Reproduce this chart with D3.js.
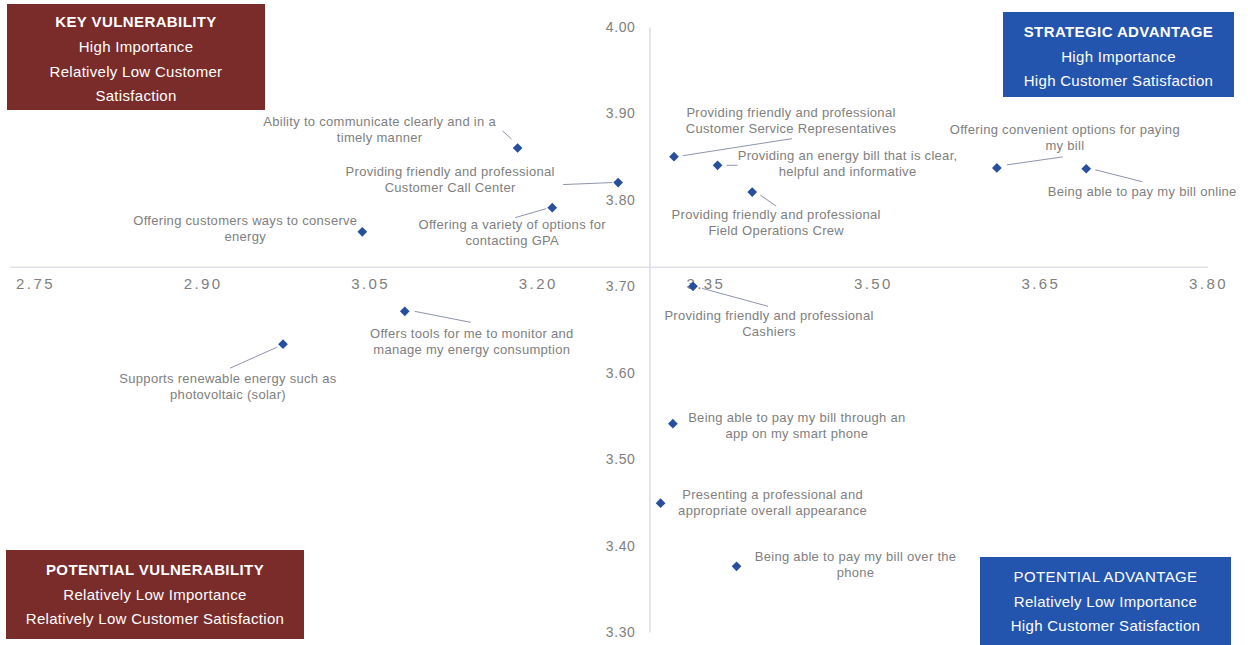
<!DOCTYPE html>
<html>
<head>
<meta charset="utf-8">
<script src="https://cdn.jsdelivr.net/npm/d3@7"></script>
<style>
  html, body { margin: 0; padding: 0; background: #ffffff; }
  svg { display: block; font-family: "Liberation Sans", Arial, sans-serif; }
</style>
</head>
<body>
<svg id="chart" width="1248" height="645"></svg>
<script>
// Attributes rated by customers: satisfaction (x) vs. importance (y)
const attributes = [
  ["Ability to communicate clearly and in a", "timely manner"],
  ["Providing friendly and professional", "Customer Call Center"],
  ["Offering a variety of options for", "contacting GPA"],
  ["Offering customers ways to conserve", "energy"],
  ["Providing friendly and professional", "Customer Service Representatives"],
  ["Providing an energy bill that is clear,", "helpful and informative"],
  ["Providing friendly and professional", "Field Operations Crew"],
  ["Offering convenient options for paying", "my bill"],
  ["Being able to pay my bill online"],
  ["Supports renewable energy such as", "photovoltaic (solar)"],
  ["Offers tools for me to monitor and", "manage my energy consumption"],
  ["Providing friendly and professional", "Cashiers"],
  ["Being able to pay my bill through an", "app on my smart phone"],
  ["Presenting a professional and", "appropriate overall appearance"],
  ["Being able to pay my bill over the", "phone"]
];
const satisfaction = [3.182, 3.272, 3.213, 3.043, 3.322, 3.361, 3.392, 3.611, 3.691, 2.972, 3.081, 3.339, 3.321, 3.310, 3.378];
const importance   = [3.860, 3.820, 3.791, 3.763, 3.850, 3.840, 3.809, 3.837, 3.836, 3.633, 3.671, 3.700, 3.541, 3.449, 3.376];

// Quadrant dividers (average satisfaction / average importance)
const satisfactionMid = 3.30;
const importanceMid = 3.722;

const xTicks = [2.75, 2.90, 3.05, 3.20, 3.35, 3.50, 3.65, 3.80];
const xTickLabels = ["2.75", "2.90", "3.05", "3.20", "3.35", "3.50", "3.65", "3.80"];
const yTicks = [3.30, 3.40, 3.50, 3.60, 3.70, 3.80, 3.90, 4.00];
const yTickLabels = ["3.30", "3.40", "3.50", "3.60", "3.70", "3.80", "3.90", "4.00"];

// Label placement relative to each point: [dx, dy] of the first text line,
// and the leader line [x1, y1, x2, y2] (null = no leader)
const labelOffsets = [
  [-138, -25], [-168, -10], [-40, 18], [-117, -10], [117, -43],
  [130, -8], [24, 24], [68, -37], [56, 24], [-55, 36],
  [67, 24], [76, 31], [124, -5], [112, -7], [119, -8]
];
const leaders = [
  [-6, -9, -15, -17], [-6, 0, -55, 2], [-6, 1, -37, 10], null, [9, -1, 118, -18],
  [9, 0, 20, 0], [8, 3, 24, 14], [10, -3, 66, -11], [9, 1, 56, 13], [-6, 3, -53, 24],
  [10, 0, 66, 11], [9, 2, 75, 20], null, null, null
];

// Quadrant callouts: box [x, y, w, h] and first text line position
const quadrants = [
  { box: [7, 4, 258, 106], firstLine: 23.5, fill: "#7a2c2a", bold: true,
    lines: ["KEY VULNERABILITY", "High Importance", "Relatively Low Customer", "Satisfaction"] },
  { box: [1003, 12, 231, 85], firstLine: 33, fill: "#2455ae", bold: true,
    lines: ["STRATEGIC ADVANTAGE", "High Importance", "High Customer Satisfaction"] },
  { box: [6, 550, 298, 89], firstLine: 571, fill: "#7a2c2a", bold: true,
    lines: ["POTENTIAL VULNERABILITY", "Relatively Low Importance", "Relatively Low Customer Satisfaction"] },
  { box: [980, 557, 251, 95], firstLine: 578, fill: "#2455ae", bold: false,
    lines: ["POTENTIAL ADVANTAGE", "Relatively Low Importance", "High Customer Satisfaction"] }
];

const svg = d3.select("#chart");

const x = d3.scaleLinear().domain([2.75, 3.80]).range([35, 1208]);
const y = d3.scaleLinear().domain([3.30, 4.00]).range([632, 27]);

// Horizontal divider with satisfaction tick labels below it
svg.append("line")
  .attr("x1", x(2.728)).attr("x2", x(3.80))
  .attr("y1", y(importanceMid)).attr("y2", y(importanceMid))
  .attr("stroke", "#dfe0ea").attr("stroke-width", 1.5);

const xAxis = svg.append("g")
  .attr("transform", `translate(0,${y(importanceMid)})`)
  .call(d3.axisBottom(x).tickValues(xTicks).tickSize(0).tickPadding(11)
    .tickFormat((d, i) => xTickLabels[i]));
xAxis.select(".domain").remove();
xAxis.selectAll("text")
  .attr("fill", "#808080").attr("font-size", 15).attr("letter-spacing", "2.4px")
  .attr("font-family", "Liberation Sans, Arial, sans-serif");

// Vertical divider with importance tick labels
const yAxis = svg.append("g")
  .attr("transform", `translate(${x(satisfactionMid)},0)`)
  .call(d3.axisLeft(y).tickValues(yTicks).tickSize(0).tickPadding(14)
    .tickFormat((d, i) => yTickLabels[i]));
yAxis.select(".domain")
  .attr("stroke", "#d9dbea").attr("stroke-width", 1.5);
yAxis.selectAll("text")
  .attr("fill", "#808080").attr("font-size", 14).attr("letter-spacing", "0.6px")
  .attr("font-family", "Liberation Sans, Arial, sans-serif");

// Leader lines
const pts = satisfaction.map((s, i) => ({ i, px: x(s), py: y(importance[i]) }));

svg.append("g").selectAll("line")
  .data(pts.filter(p => leaders[p.i]))
  .join("line")
  .attr("x1", p => p.px + leaders[p.i][0])
  .attr("y1", p => p.py + leaders[p.i][1])
  .attr("x2", p => p.px + leaders[p.i][2])
  .attr("y2", p => p.py + leaders[p.i][3])
  .attr("stroke", "#8e94ad").attr("stroke-width", 1);

// Diamond markers
svg.append("g").selectAll("path")
  .data(pts)
  .join("path")
  .attr("transform", p => `translate(${p.px},${p.py})`)
  .attr("d", d3.symbol(d3.symbolDiamond2, 60)())
  .attr("fill", "#284f9e");

// Point labels
const lab = svg.append("g")
  .attr("font-size", 13)
  .attr("letter-spacing", "0.3px")
  .attr("fill", "#808080")
  .attr("text-anchor", "middle");

pts.forEach(p => {
  const [dx, dy] = labelOffsets[p.i];
  const t = lab.append("text")
    .attr("x", p.px + dx)
    .attr("y", p.py + dy)
    .attr("dominant-baseline", "middle");
  attributes[p.i].forEach((line, k) => {
    t.append("tspan")
      .attr("x", p.px + dx)
      .attr("dy", k === 0 ? 0 : 16)
      .text(line);
  });
});

// Quadrant callout boxes
quadrants.forEach(q => {
  const [bx, by, bw, bh] = q.box;
  const g = svg.append("g");
  g.append("rect")
    .attr("x", bx).attr("y", by).attr("width", bw).attr("height", bh)
    .attr("fill", q.fill);
  const step = 24.6;
  q.lines.forEach((line, k) => {
    g.append("text")
      .attr("x", bx + bw / 2)
      .attr("y", q.firstLine + k * step)
      .attr("dominant-baseline", "middle")
      .attr("text-anchor", "middle")
      .attr("fill", "#ffffff")
      .attr("font-size", 15)
      .attr("letter-spacing", k === 0 ? "0.4px" : "0.3px")
      .attr("font-weight", k === 0 && q.bold ? "bold" : "normal")
      .text(line);
  });
});
</script>
</body>
</html>
